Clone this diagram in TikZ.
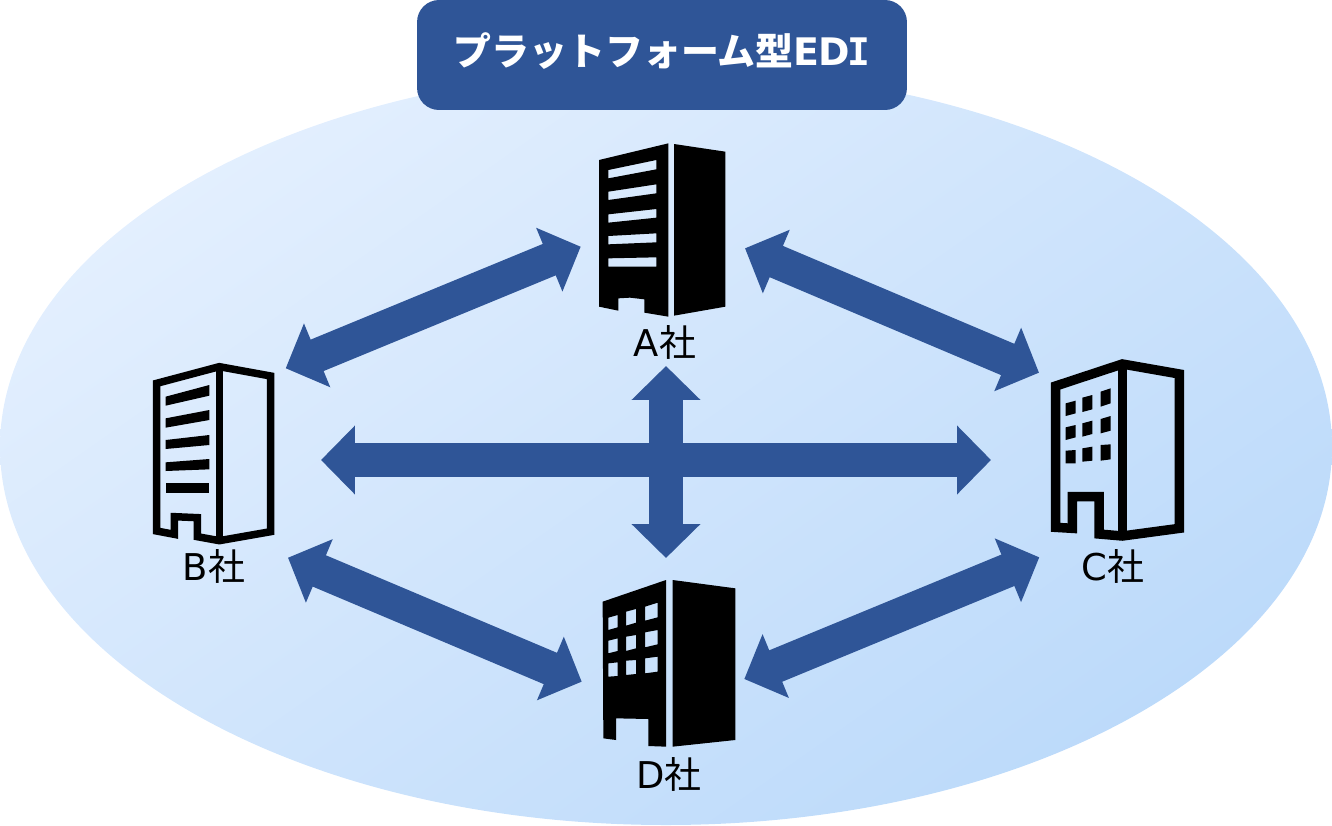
\documentclass[tikz,border=0pt]{standalone}
\usepackage{fontspec}
\newfontfamily\jpfont{Noto Sans CJK JP}
\newfontfamily\latinfont{DejaVu Sans}
\newfontfamily\latinmono{DejaVu Sans Mono}
\usetikzlibrary{arrows.meta}
\definecolor{edi}{HTML}{2F5597}
\definecolor{skylight}{HTML}{E3EFFE}
\definecolor{skydark}{HTML}{BCDAFA}
\tikzset{
  link/.style={edi, line width=0.68cm, {Triangle[length=0.68cm,width=1.34cm]}-{Triangle[length=0.68cm,width=1.34cm]}},
  company/.style={font=\jpfont\fontsize{21}{21}\selectfont, inner sep=0pt},
  icon/.style={scale=1/3},
}
\begin{document}
\begin{tikzpicture}[x=0.02cm,y=-0.02cm]
\useasboundingbox (0,0) rectangle (1332,825);

% Draw the shaded ellipse
\shade[top color=skylight, bottom color=skydark, shading angle=35] (666,447) ellipse [x radius=666, y radius=378];

% Draw the title
\node[fill=edi, rounded corners=0.44cm, minimum width=9.8cm, minimum height=2.2cm, inner sep=0pt] (title) at (662,55) {};
\node[text=white, inner sep=0pt, anchor=west, font=\jpfont\bfseries\fontsize{21.6}{21.6}\selectfont] (titletext) at (453,51) {プラットフォーム型{\latinfont E\kern-0.03em D\kern-0.08em}{\latinmono I}};

% Draw building A
\begin{scope}[shift={(580,130)},icon]
\fill[even odd rule] (57,90) -- (265,40) -- (265,560) -- (193,548) -- (193,508) -- (150,503) -- (115,505) -- (115,542) -- (57,530) -- cycle
  (85,120) -- (229,90) -- (229,118) -- (85,145) -- cycle
  (85,185) -- (229,163) -- (229,190) -- (85,210) -- cycle
  (85,253) -- (229,237) -- (229,263) -- (85,278) -- cycle
  (85,318) -- (229,310) -- (229,337) -- (85,343) -- cycle
  (85,385) -- (229,382) -- (229,410) -- (85,410) -- cycle;
\fill (282,42) -- (436,65) -- (436,530) -- (282,557) -- cycle;
\end{scope}

% Draw building B
\begin{scope}[shift={(140,350)},icon]
\draw[line width=0.15cm] (50,100) -- (238,50) -- (392,78) -- (392,545) -- (238,572) -- (172,560) -- (172,503) -- (103,500) -- (103,553) -- (50,543) -- cycle;
\draw[line width=0.15cm] (238,50) -- (238,572);
\fill (77,140) -- (208,105) -- (208,137) -- (77,167) -- cycle;
\fill (77,205) -- (208,180) -- (208,210) -- (77,233) -- cycle;
\fill (77,270) -- (208,255) -- (208,285) -- (77,297) -- cycle;
\fill (77,337) -- (208,327) -- (208,358) -- (77,363) -- cycle;
\fill (77,400) -- (208,400) -- (208,430) -- (77,430) -- cycle;
\end{scope}

% Draw building C
\begin{scope}[shift={(1040,350)},icon]
\draw[line width=0.19cm] (47,108) -- (247,42) -- (418,72) -- (418,535) -- (247,558) -- (177,552) -- (177,440) -- (97,440) -- (97,535) -- (47,532) -- cycle;
\draw[line width=0.19cm] (247,42) -- (247,558);
\fill (77,160) -- (107,152) -- (107,190) -- (77,198) -- cycle;
\fill (127,143) -- (157,135) -- (157,178) -- (127,186) -- cycle;
\fill (182,125) -- (212,115) -- (212,160) -- (182,170) -- cycle;
\fill (77,232) -- (107,225) -- (107,262) -- (77,270) -- cycle;
\fill (127,220) -- (157,212) -- (157,252) -- (127,260) -- cycle;
\fill (182,207) -- (212,198) -- (212,242) -- (182,250) -- cycle;
\fill (77,302) -- (107,300) -- (107,340) -- (77,340) -- cycle;
\fill (127,295) -- (157,290) -- (157,332) -- (127,335) -- cycle;
\fill (182,285) -- (212,283) -- (212,328) -- (182,332) -- cycle;
\end{scope}

% Draw building D
\begin{scope}[shift={(590,570)},icon]
\fill[even odd rule] (38,95) -- (228,30) -- (228,530) -- (175,528) -- (175,447) -- (78,445) -- (78,510) -- (40,505) -- cycle
  (55,143) -- (83,135) -- (83,172) -- (55,180) -- cycle
  (108,125) -- (138,117) -- (138,158) -- (108,167) -- cycle
  (165,110) -- (203,98) -- (203,142) -- (165,152) -- cycle
  (55,212) -- (83,205) -- (83,243) -- (55,250) -- cycle
  (108,200) -- (138,195) -- (138,235) -- (108,243) -- cycle
  (165,187) -- (203,180) -- (203,223) -- (165,232) -- cycle
  (55,280) -- (83,277) -- (83,318) -- (55,320) -- cycle
  (108,272) -- (138,270) -- (138,312) -- (108,315) -- cycle
  (165,265) -- (203,260) -- (203,305) -- (165,310) -- cycle;
\fill (248,30) -- (436,55) -- (436,510) -- (248,530) -- cycle;
\end{scope}

% Draw the company names
\node[company] (labela) at (665,342) {{\latinfont A}社};
\node[company] (labelb) at (214,566) {{\latinfont B}社};
\node[company] (labelc) at (1113,566) {{\latinfont C}社};
\node[company] (labeld) at (669,774) {{\latinfont D}社};

% Draw the arrows
\coordinate (atob) at (580.7,246.7);
\coordinate (btoa) at (285.7,368.3);
\coordinate (atoc) at (745,248.3);
\coordinate (ctoa) at (1039,372.7);
\coordinate (btod) at (288,557.7);
\coordinate (dtob) at (581.7,681.7);
\coordinate (dtoc) at (744.3,679);
\coordinate (ctod) at (1039.3,557.3);
\coordinate (btoc) at (321,460);
\coordinate (ctob) at (991,460);
\coordinate (atod) at (666,366);
\coordinate (dtoa) at (666,558);
\draw[link] (atob) -- (btoa);
\draw[link] (atoc) -- (ctoa);
\draw[link] (btod) -- (dtob);
\draw[link] (dtoc) -- (ctod);
\draw[link] (btoc) -- (ctob);
\draw[link] (atod) -- (dtoa);
\end{tikzpicture}
\end{document}
